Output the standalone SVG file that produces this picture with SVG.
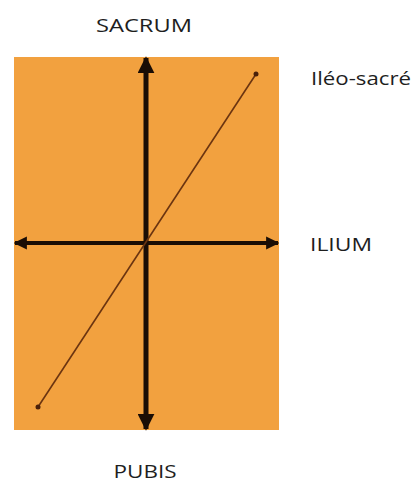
<svg xmlns="http://www.w3.org/2000/svg" width="414" height="484" viewBox="0 0 414 484">
<style>
.lbl{font-family:"Open Sans","Liberation Sans",sans-serif;font-size:19px;font-weight:500;fill:#1e1e1e}
</style>
<defs>
<marker id="big" viewBox="0 0 10 10" refX="9" refY="5" markerWidth="3.4" markerHeight="3.4" orient="auto-start-reverse" markerUnits="strokeWidth">
<path d="M0,0 L10,5 L0,10 Z" fill="#1a0d05"/>
</marker>
<marker id="mid" viewBox="0 0 10 10" refX="9" refY="5" markerWidth="3.3" markerHeight="3.3" orient="auto-start-reverse" markerUnits="strokeWidth">
<path d="M0,0 L10,5 L0,10 Z" fill="#1a0d05"/>
</marker>
</defs>
<g id="panel"><rect x="14" y="57" width="265" height="373" fill="#F2A13F"/></g>
<g id="connectors">
<line x1="15" y1="243" x2="278" y2="243" stroke="#1a0d05" stroke-width="4" marker-start="url(#mid)" marker-end="url(#mid)"/>
<line x1="146" y1="58" x2="146" y2="429" stroke="#1a0d05" stroke-width="5" marker-start="url(#big)" marker-end="url(#big)"/>
<line x1="256" y1="74" x2="38" y2="407" stroke="#6b3410" stroke-width="1.6"/>
<circle cx="256" cy="74" r="2.5" fill="#4a200a"/>
<circle cx="38" cy="407" r="2.5" fill="#4a200a"/>
</g>
<g id="sacrum"><text class="lbl" x="144" y="32" text-anchor="middle" textLength="96" lengthAdjust="spacingAndGlyphs">SACRUM</text></g>
<g id="ileo"><text class="lbl" x="311" y="85" textLength="100" lengthAdjust="spacingAndGlyphs">Iléo-sacré</text></g>
<g id="ilium"><text class="lbl" x="310" y="251" textLength="62" lengthAdjust="spacingAndGlyphs">ILIUM</text></g>
<g id="pubis"><text class="lbl" x="145" y="478" text-anchor="middle" textLength="63" lengthAdjust="spacingAndGlyphs">PUBIS</text></g>
</svg>
